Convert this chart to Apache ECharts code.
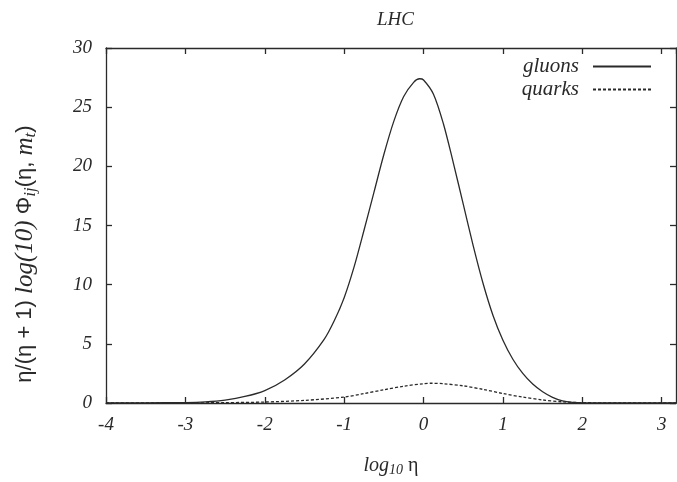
<!DOCTYPE html>
<html>
<head>
<meta charset="utf-8">
<script src="https://cdn.jsdelivr.net/npm/echarts@6/dist/echarts.min.js"></script>
<style>html,body{margin:0;padding:0;background:#fff;}#c{width:677px;height:482px;}</style>
</head>
<body>
<div id="c"></div>
<script>
// log10(eta) sample positions
const xs = [-4, -3.5, -3, -2.75, -2.5, -2.25, -2, -1.75, -1.5, -1.25, -1.125, -1, -0.875, -0.75, -0.625, -0.5, -0.375, -0.25, -0.125, -0.05, 0, 0.125, 0.25, 0.375, 0.5, 0.625, 0.75, 0.875, 1, 1.125, 1.25, 1.375, 1.5, 1.625, 1.75, 1.875, 2, 2.5, 3.18];
const gluons = [0, 0.01, 0.04, 0.1, 0.25, 0.55, 1.05, 1.95, 3.3, 5.4, 6.95, 8.9, 11.5, 14.6, 17.8, 21.0, 23.8, 25.9, 27.1, 27.4, 27.3, 26.1, 23.6, 20.3, 16.8, 13.3, 10.1, 7.4, 5.3, 3.7, 2.5, 1.6, 0.95, 0.48, 0.18, 0.05, 0.01, 0, 0];
const quarksX = [-4, -3, -2.5, -2, -1.5, -1, -0.75, -0.5, -0.25, 0, 0.1, 0.25, 0.5, 0.75, 1, 1.25, 1.5, 1.75, 2, 2.5, 3.18];
const quarks = [0, 0.01, 0.03, 0.08, 0.22, 0.5, 0.8, 1.12, 1.42, 1.63, 1.67, 1.63, 1.45, 1.15, 0.8, 0.5, 0.26, 0.1, 0.03, 0.005, 0];
const xTicks = [-4, -3, -2, -1, 0, 1, 2, 3];
const yTicks = [0, 5, 10, 15, 20, 25, 30];

const serif = 'Liberation Serif';
const ink = '#2a2a2a';
const chart = echarts.init(document.getElementById('c'), null, {renderer: 'canvas'});

const xLabel = {
  show: true, fontFamily: serif, fontStyle: 'italic', fontSize: 19, color: ink, margin: 12,
  formatter: v => xTicks.includes(v) ? String(v) : '', showMaxLabel: false
};
const yLabel = {
  show: true, fontFamily: serif, fontStyle: 'italic', fontSize: 19, color: ink, margin: 14,
  formatter: v => yTicks.includes(v) ? String(v) : ''
};
const axLine = {show: true, onZero: false, lineStyle: {color: ink, width: 1.3}};
const axTick = {show: true, inside: true, length: 6, lineStyle: {color: ink, width: 1.3}};

chart.setOption({
  animation: false,
  backgroundColor: '#fff',
  title: {
    text: 'LHC', left: 372, top: 5,
    textStyle: {fontFamily: serif, fontStyle: 'italic', fontWeight: 'normal', fontSize: 19, color: ink}
  },
  legend: {
    orient: 'vertical', right: 25, top: 56, align: 'right', padding: 0,
    itemWidth: 58, itemHeight: 14, itemGap: 2,
    itemStyle: {opacity: 0},
    textStyle: {fontFamily: serif, fontStyle: 'italic', fontSize: 21, lineHeight: 20, color: ink, padding: [0, 9, 0, 0]},
    data: ['gluons', 'quarks']
  },
  grid: {left: 106, right: 1, top: 48, bottom: 71, containLabel: false},
  xAxis: [
    {
      type: 'value', min: -4, max: 3.18, interval: 1, position: 'bottom',
      axisLine: axLine, axisTick: axTick, axisLabel: xLabel, splitLine: {show: false},
      name: '{i|log}{s|10}{n| η}', nameLocation: 'middle', nameGap: 51,
      nameTextStyle: {
        rich: {
          i: {fontFamily: serif, fontStyle: 'italic', fontSize: 20, color: ink},
          s: {fontFamily: serif, fontStyle: 'italic', fontSize: 14, color: ink, padding: [9, 0, 0, 0]},
          n: {fontFamily: serif, fontSize: 20, color: ink}
        }
      }
    },
    {
      type: 'value', min: -4, max: 3.18, interval: 1, position: 'top',
      axisLine: axLine, axisTick: axTick, axisLabel: {show: false}, splitLine: {show: false}
    }
  ],
  yAxis: [
    {
      type: 'value', min: 0, max: 30, interval: 5, position: 'left',
      axisLine: axLine, axisTick: axTick, axisLabel: yLabel, splitLine: {show: false}
    },
    {
      type: 'value', min: 0, max: 30, interval: 5, position: 'right',
      axisLine: axLine, axisTick: axTick, axisLabel: {show: false}, splitLine: {show: false}
    }
  ],
  graphic: [{
    type: 'text', x: 25, y: 254, rotation: Math.PI / 2,
    style: {
      text: '{n|η/(η + 1) }{i|log(10)}{n| Φ}{s|ij}{n|(η, }{i|m}{s|t}{n|)}',
      align: 'center', verticalAlign: 'middle',
      rich: {
        n: {fontFamily: 'Liberation Sans', fontSize: 22, fill: ink},
        i: {fontFamily: serif, fontStyle: 'italic', fontSize: 25, fill: ink},
        s: {fontFamily: serif, fontStyle: 'italic', fontSize: 17, fill: ink, padding: [11, 0, 0, 0]}
      }
    }
  }],
  series: [
    {
      name: 'gluons', type: 'line', xAxisIndex: 0, yAxisIndex: 0, symbol: 'none', smooth: 0.3,
      lineStyle: {color: ink, width: 1.3, type: 'solid'}, itemStyle: {color: ink},
      data: xs.map((x, i) => [x, gluons[i]])
    },
    {
      name: 'quarks', type: 'line', xAxisIndex: 0, yAxisIndex: 0, symbol: 'none', smooth: 0.3,
      lineStyle: {color: ink, width: 1.3, type: [3, 2]}, itemStyle: {color: ink},
      data: quarksX.map((x, i) => [x, quarks[i]])
    }
  ]
});
</script>
</body>
</html>
